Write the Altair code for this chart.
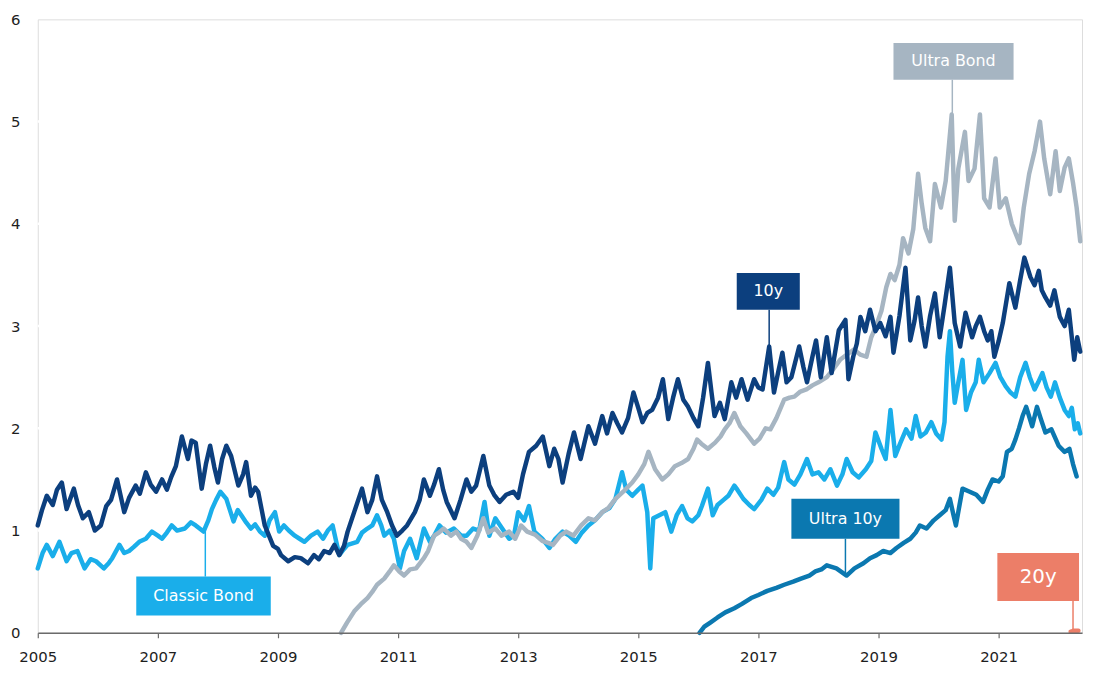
import altair as alt
import pandas as pd

# ---------------- data (decimal year, value) ----------------
TEN_Y_T = [2005.00,2005.07,2005.15,2005.25,2005.32,2005.40,2005.48,2005.60,2005.67,2005.75,2005.85,2005.95,
 2006.05,2006.14,2006.22,2006.32,2006.44,2006.52,2006.63,2006.70,2006.80,2006.88,2006.97,2007.07,2007.15,2007.22,
 2007.30,2007.40,2007.50,2007.56,2007.63,2007.73,2007.80,2007.87,2007.94,2008.00,2008.07,2008.14,2008.22,2008.34,
 2008.42,2008.47,2008.55,2008.62,2008.67,2008.73,2008.78,2008.85,2008.92,2009.00,2009.05,2009.17,2009.28,2009.38,
 2009.50,2009.60,2009.68,2009.77,2009.86,2009.94,2010.02,2010.10,2010.16,2010.28,2010.40,2010.49,2010.57,2010.65,
 2010.73,2010.82,2010.90,2010.98,2011.07,2011.15,2011.28,2011.36,2011.43,2011.53,2011.60,2011.68,2011.75,2011.81,
 2011.94,2012.04,2012.14,2012.22,2012.30,2012.42,2012.52,2012.60,2012.69,2012.80,2012.92,2013.00,2013.08,2013.18,
 2013.30,2013.41,2013.52,2013.60,2013.67,2013.74,2013.84,2013.93,2014.04,2014.10,2014.17,2014.28,2014.40,2014.48,
 2014.57,2014.65,2014.73,2014.83,2014.92,2015.00,2015.07,2015.15,2015.23,2015.33,2015.41,2015.50,2015.58,2015.66,
 2015.75,2015.83,2015.92,2016.00,2016.08,2016.16,2016.22,2016.27,2016.36,2016.44,2016.55,2016.63,2016.72,2016.82,
 2016.93,2017.00,2017.07,2017.18,2017.26,2017.33,2017.40,2017.47,2017.55,2017.68,2017.75,2017.81,2017.90,2017.96,
 2018.04,2018.14,2018.22,2018.34,2018.45,2018.50,2018.58,2018.64,2018.70,2018.78,2018.86,2018.95,2019.03,2019.12,
 2019.20,2019.25,2019.35,2019.45,2019.53,2019.60,2019.66,2019.72,2019.78,2019.86,2019.94,2020.02,2020.10,2020.19,
 2020.27,2020.36,2020.45,2020.56,2020.62,2020.69,2020.76,2020.82,2020.88,2020.93,2021.00,2021.07,2021.18,2021.23,
 2021.28,2021.36,2021.43,2021.53,2021.60,2021.67,2021.72,2021.78,2021.86,2021.93,2022.02,2022.10,2022.17,2022.26,
 2022.31,2022.36]
TEN_Y_V = [1.05,1.20,1.34,1.25,1.40,1.47,1.21,1.41,1.25,1.12,1.18,1.00,
 1.05,1.24,1.30,1.50,1.18,1.32,1.44,1.36,1.57,1.45,1.38,1.50,1.40,1.52,
 1.63,1.92,1.70,1.88,1.86,1.41,1.65,1.83,1.62,1.47,1.70,1.83,1.73,1.44,
 1.55,1.67,1.34,1.42,1.38,1.20,1.05,0.95,0.85,0.82,0.76,0.70,0.74,0.73,
 0.68,0.76,0.72,0.80,0.78,0.86,0.76,0.85,0.99,1.20,1.41,1.18,1.30,1.53,
 1.30,1.18,1.05,0.95,1.00,1.05,1.18,1.30,1.50,1.34,1.45,1.60,1.40,1.28,
 1.12,1.30,1.50,1.38,1.44,1.73,1.44,1.35,1.28,1.35,1.38,1.32,1.55,1.77,
 1.83,1.92,1.63,1.80,1.70,1.47,1.75,1.96,1.70,1.85,2.02,1.85,2.12,1.95,
 2.15,2.05,1.96,2.10,2.35,2.20,2.06,2.15,2.18,2.30,2.48,2.09,2.30,2.48,
 2.28,2.21,2.10,2.02,2.30,2.64,2.35,2.12,2.25,2.09,2.45,2.30,2.48,2.28,
 2.48,2.40,2.38,2.80,2.35,2.55,2.74,2.45,2.50,2.80,2.60,2.45,2.70,2.86,
 2.50,2.89,2.54,2.96,3.06,2.48,2.70,2.83,3.09,2.95,3.16,2.95,3.03,2.90,
 3.09,2.74,3.10,3.57,2.86,3.05,3.28,3.00,2.80,3.10,3.32,2.89,3.20,3.57,
 3.03,2.80,3.13,2.89,3.00,3.09,2.95,2.86,2.95,2.70,2.85,3.03,3.42,3.30,
 3.18,3.45,3.67,3.48,3.40,3.54,3.35,3.28,3.20,3.35,3.09,3.00,3.16,2.67,
 2.89,2.75]

CLASSIC_T = [2005.00,2005.08,2005.15,2005.25,2005.36,2005.48,2005.56,2005.66,2005.78,2005.88,2005.97,2006.10,
 2006.18,2006.24,2006.36,2006.44,2006.52,2006.60,2006.69,2006.80,2006.90,2007.00,2007.07,2007.15,2007.23,2007.32,
 2007.45,2007.55,2007.63,2007.76,2007.84,2007.90,2007.97,2008.04,2008.14,2008.20,2008.26,2008.33,2008.39,2008.47,
 2008.55,2008.62,2008.70,2008.78,2008.86,2008.95,2009.02,2009.10,2009.18,2009.28,2009.36,2009.44,2009.55,2009.66,
 2009.75,2009.83,2009.91,2010.02,2010.10,2010.16,2010.32,2010.40,2010.49,2010.57,2010.65,2010.72,2010.77,2010.86,
 2010.93,2011.03,2011.10,2011.20,2011.31,2011.43,2011.53,2011.60,2011.69,2011.80,2011.93,2012.05,2012.14,2012.25,
 2012.35,2012.44,2012.52,2012.62,2012.70,2012.85,2012.93,2013.00,2013.10,2013.18,2013.27,2013.40,2013.52,2013.62,
 2013.74,2013.85,2013.96,2014.06,2014.17,2014.28,2014.40,2014.52,2014.62,2014.73,2014.80,2014.90,2015.00,2015.07,
 2015.15,2015.20,2015.25,2015.35,2015.45,2015.55,2015.64,2015.73,2015.82,2015.90,2016.00,2016.06,2016.16,2016.24,
 2016.32,2016.42,2016.50,2016.60,2016.65,2016.75,2016.85,2016.93,2017.05,2017.15,2017.25,2017.33,2017.43,2017.50,
 2017.60,2017.70,2017.81,2017.90,2018.00,2018.10,2018.20,2018.31,2018.40,2018.47,2018.57,2018.67,2018.79,2018.88,
 2018.95,2019.05,2019.12,2019.20,2019.28,2019.36,2019.46,2019.55,2019.62,2019.70,2019.79,2019.88,2019.96,2020.05,
 2020.10,2020.15,2020.19,2020.23,2020.27,2020.33,2020.40,2020.46,2020.54,2020.62,2020.67,2020.75,2020.85,2020.95,
 2021.03,2021.12,2021.20,2021.28,2021.36,2021.45,2021.52,2021.60,2021.66,2021.73,2021.80,2021.87,2021.94,2022.02,
 2022.10,2022.17,2022.22,2022.27,2022.32,2022.36]
CLASSIC_V = [0.63,0.78,0.86,0.75,0.89,0.70,0.78,0.80,0.63,0.72,0.70,0.63,
 0.68,0.73,0.86,0.78,0.80,0.84,0.89,0.92,0.99,0.95,0.92,0.98,1.05,1.00,
 1.02,1.08,1.05,0.99,1.10,1.21,1.30,1.38,1.31,1.20,1.09,1.20,1.15,1.08,
 1.02,1.06,0.99,0.95,1.10,1.18,0.99,1.05,1.00,0.95,0.92,0.89,0.95,0.99,
 0.92,1.00,1.05,0.76,0.82,0.86,0.89,0.98,1.02,1.05,1.15,1.05,0.95,1.00,
 0.92,0.63,0.80,0.92,0.73,1.02,0.89,0.95,1.05,0.98,1.02,0.95,0.95,1.02,
 1.00,1.28,0.95,1.12,1.05,0.92,0.95,1.18,1.10,1.24,0.99,0.92,0.83,0.92,
 0.99,0.95,0.89,0.98,1.05,1.10,1.18,1.22,1.31,1.57,1.40,1.34,1.40,1.44,
 1.18,0.63,1.12,1.15,1.18,0.99,1.15,1.24,1.12,1.09,1.15,1.24,1.41,1.15,
 1.25,1.30,1.34,1.44,1.40,1.31,1.25,1.21,1.30,1.41,1.35,1.42,1.67,1.50,
 1.45,1.55,1.70,1.55,1.57,1.50,1.60,1.44,1.55,1.70,1.57,1.52,1.60,1.68,
 1.96,1.80,1.70,2.18,1.73,1.85,1.99,1.90,2.12,1.92,1.96,2.06,1.95,1.89,
 2.06,2.70,2.95,2.55,2.25,2.45,2.67,2.18,2.35,2.45,2.67,2.45,2.54,2.64,
 2.50,2.41,2.35,2.31,2.50,2.64,2.50,2.38,2.45,2.54,2.40,2.31,2.45,2.30,
 2.18,2.12,2.20,1.99,2.05,1.95]

ULTRA_BOND_T = [2010.05,2010.15,2010.27,2010.38,2010.49,2010.57,2010.65,2010.77,2010.86,2010.93,2011.02,2011.10,
 2011.20,2011.30,2011.43,2011.50,2011.60,2011.68,2011.76,2011.88,2011.97,2012.05,2012.14,2012.22,2012.32,2012.42,
 2012.50,2012.62,2012.72,2012.85,2012.95,2013.05,2013.15,2013.28,2013.40,2013.50,2013.58,2013.70,2013.80,2013.92,
 2014.05,2014.17,2014.28,2014.40,2014.50,2014.62,2014.75,2014.90,2015.00,2015.10,2015.17,2015.28,2015.40,2015.50,
 2015.61,2015.72,2015.83,2015.92,2015.98,2016.05,2016.16,2016.28,2016.37,2016.44,2016.52,2016.60,2016.70,2016.80,
 2016.93,2017.02,2017.12,2017.20,2017.30,2017.43,2017.52,2017.60,2017.70,2017.80,2017.90,2018.00,2018.14,2018.25,
 2018.36,2018.47,2018.59,2018.70,2018.80,2018.88,2018.96,2019.05,2019.13,2019.20,2019.27,2019.35,2019.41,2019.50,
 2019.58,2019.66,2019.72,2019.78,2019.86,2019.94,2020.04,2020.12,2020.22,2020.27,2020.33,2020.44,2020.50,2020.60,
 2020.69,2020.76,2020.85,2020.95,2021.02,2021.12,2021.22,2021.35,2021.42,2021.51,2021.60,2021.69,2021.76,2021.86,
 2021.95,2022.02,2022.10,2022.17,2022.24,2022.30,2022.36]
ULTRA_BOND_V = [0.00,0.10,0.21,0.28,0.34,0.40,0.47,0.53,0.60,0.66,0.60,0.56,
 0.62,0.63,0.73,0.80,0.95,0.98,1.02,0.95,0.99,0.92,0.89,0.83,0.95,1.12,
 0.98,1.02,0.95,0.99,0.92,1.05,0.99,0.96,0.90,0.88,0.86,0.95,0.99,0.95,
 1.05,1.12,1.10,1.18,1.22,1.31,1.38,1.47,1.55,1.65,1.77,1.60,1.50,1.55,
 1.63,1.66,1.70,1.80,1.89,1.85,1.80,1.86,1.92,1.99,2.05,2.15,2.02,1.95,
 1.85,1.90,2.00,1.99,2.10,2.28,2.30,2.31,2.36,2.38,2.42,2.45,2.50,2.58,
 2.67,2.72,2.77,2.72,2.70,2.89,3.00,3.15,3.38,3.51,3.45,3.60,3.86,3.71,
 3.95,4.49,4.20,3.96,3.83,4.39,4.16,4.42,5.07,4.03,4.54,4.90,4.42,4.54,
 5.07,4.25,4.16,4.64,4.16,4.25,4.00,3.81,4.16,4.49,4.71,5.00,4.64,4.29,
 4.71,4.32,4.55,4.64,4.40,4.16,3.83]

ULTRA_10Y_T = [2016.02,2016.10,2016.20,2016.32,2016.45,2016.60,2016.72,2016.88,2017.00,2017.15,2017.30,2017.43,
 2017.58,2017.71,2017.85,2017.95,2018.05,2018.14,2018.30,2018.47,2018.60,2018.75,2018.86,2018.97,2019.08,2019.20,
 2019.30,2019.42,2019.53,2019.62,2019.69,2019.80,2019.92,2020.02,2020.12,2020.19,2020.25,2020.29,2020.35,2020.40,
 2020.52,2020.63,2020.74,2020.82,2020.90,2021.00,2021.07,2021.14,2021.22,2021.28,2021.34,2021.40,2021.46,2021.56,
 2021.64,2021.70,2021.78,2021.88,2022.00,2022.10,2022.18,2022.24,2022.30]
ULTRA_10Y_V = [0.00,0.06,0.10,0.15,0.20,0.24,0.28,0.34,0.37,0.41,0.44,0.47,
 0.50,0.53,0.56,0.60,0.62,0.66,0.63,0.56,0.63,0.68,0.73,0.76,0.80,0.78,
 0.83,0.88,0.92,0.98,1.05,1.02,1.10,1.15,1.20,1.31,1.15,1.05,1.25,1.41,
 1.38,1.35,1.28,1.40,1.50,1.48,1.53,1.77,1.80,1.89,2.00,2.12,2.21,2.02,
 2.21,2.10,1.96,1.99,1.83,1.77,1.80,1.65,1.53]

TWENTY_Y_T = [2022.20, 2022.27, 2022.33]
TWENTY_Y_V = [0.01, 0.02, 0.02]

SERIES = ["Classic Bond", "Ultra Bond", "10y", "Ultra 10y", "20y"]
COLORS = ["#1aaeea", "#a6b5c2", "#0c3f7e", "#0b78b0", "#ec7e68"]
SERIES_T = [CLASSIC_T, ULTRA_BOND_T, TEN_Y_T, ULTRA_10Y_T, TWENTY_Y_T]
SERIES_V = [CLASSIC_V, ULTRA_BOND_V, TEN_Y_V, ULTRA_10Y_V, TWENTY_Y_V]

Y_TICKS = [0, 1, 2, 3, 4, 5, 6]
GRID_VALUES = [1, 2, 3, 4, 5]
X_TICKS = [2005, 2007, 2009, 2011, 2013, 2015, 2017, 2019, 2021]

# annotation boxes (data units)
ANN_LABEL = ["Ultra Bond", "10y", "Ultra 10y", "Classic Bond", "20y"]
ANN_COLOR = ["#a6b5c2", "#0c3f7e", "#0b78b0", "#1aaeea", "#ec7e68"]
ANN_X1 = [2019.25, 2016.64, 2017.55, 2006.64, 2020.98]
ANN_X2 = [2021.25, 2017.69, 2019.35, 2008.88, 2022.34]
ANN_Y1 = [5.41, 3.16, 0.92, 0.17, 0.31]
ANN_Y2 = [5.77, 3.52, 1.31, 0.55, 0.78]
ANN_SIZE = [16, 16, 16, 16, 20]
# connector lines: x, from box edge to data
CON_X = [2020.23, 2017.18, 2018.45, 2007.79, 2022.24]
CON_Y1 = [5.41, 3.16, 0.92, 0.55, 0.31]
CON_Y2 = [5.05, 2.77, 0.56, 1.02, 0.02]

# ---------------- build tables ----------------
rows = []
for name, ts, vs in zip(SERIES, SERIES_T, SERIES_V):
    for t, v in zip(ts, vs):
        rows.append({"series": name, "t": t, "v": v})
df = pd.DataFrame(rows)

ann = pd.DataFrame({
    "label": ANN_LABEL, "color": ANN_COLOR, "x1": ANN_X1, "x2": ANN_X2,
    "y1": ANN_Y1, "y2": ANN_Y2, "size": ANN_SIZE,
    "cx": CON_X, "cy1": CON_Y1, "cy2": CON_Y2,
})
ann["xm"] = (ann["x1"] + ann["x2"]) / 2
ann["ym"] = (ann["y1"] + ann["y2"]) / 2

FONT = "DejaVu Sans"
xs = alt.Scale(domain=[2005, 2022.39], nice=False, zero=False)
ys = alt.Scale(domain=[0, 6], nice=False)

x_axis = alt.Axis(values=X_TICKS, format="d", grid=False, domain=True, domainColor="#6b6b6b",
                  domainWidth=1.5, ticks=True, tickColor="#6b6b6b", tickSize=5, tickWidth=1.2,
                  labelFont=FONT, labelFontSize=15, labelColor="#1e1e1e", labelPadding=12,
                  labelFlush=False, labelOverlap=False, title=None, zindex=1)
y_axis = alt.Axis(values=Y_TICKS, format="d", grid=False, domain=False, ticks=False, labelFont=FONT,
                  labelFontSize=15, labelColor="#1e1e1e", labelPadding=18, labelFlush=False,
                  labelOverlap=False, title=None)

grid = alt.Chart(pd.DataFrame({"g": GRID_VALUES})).mark_rule(color="white", strokeWidth=2.5).encode(
    y=alt.Y("g:Q", scale=ys, axis=y_axis)
)

layers = [grid]
for name, col in zip(SERIES, COLORS):
    layers.append(
        alt.Chart(df).transform_filter(alt.datum.series == name).mark_line(
            color=col, strokeWidth=4.5, strokeJoin="round", strokeCap="round"
        ).encode(
            x=alt.X("t:Q", scale=xs, axis=x_axis),
            y=alt.Y("v:Q", scale=ys, axis=y_axis),
        )
    )

connectors = alt.Chart(ann).mark_rule(strokeWidth=1.5).encode(
    x=alt.X("cx:Q", scale=xs), y=alt.Y("cy1:Q", scale=ys), y2="cy2:Q",
    color=alt.Color("color:N", scale=None),
)
boxes = alt.Chart(ann).mark_rect().encode(
    x=alt.X("x1:Q", scale=xs), x2="x2:Q", y=alt.Y("y1:Q", scale=ys), y2="y2:Q",
    color=alt.Color("color:N", scale=None),
)
texts = alt.Chart(ann).mark_text(color="white", font=FONT, align="center", baseline="middle").encode(
    x=alt.X("xm:Q", scale=xs), y=alt.Y("ym:Q", scale=ys), text="label:N",
    size=alt.Size("size:Q", scale=None),
)
dot = alt.Chart(ann[ann["label"] == "20y"]).mark_point(
    shape="triangle-up", filled=True, size=40, opacity=1, color="#ec7e68"
).encode(x=alt.X("cx:Q", scale=xs), y=alt.Y("cy2:Q", scale=ys))

chart = alt.layer(*layers, connectors, boxes, texts, dot).properties(
    width=1052, height=618,
    autosize=alt.AutoSizeParams(type="none"),
    padding={"left": 30, "top": 9, "right": 3, "bottom": 32},
).configure_view(fill="#ebebeb", stroke=None).configure(background="white")

chart.save("out.html", embed_options={"renderer": "svg", "actions": False})
